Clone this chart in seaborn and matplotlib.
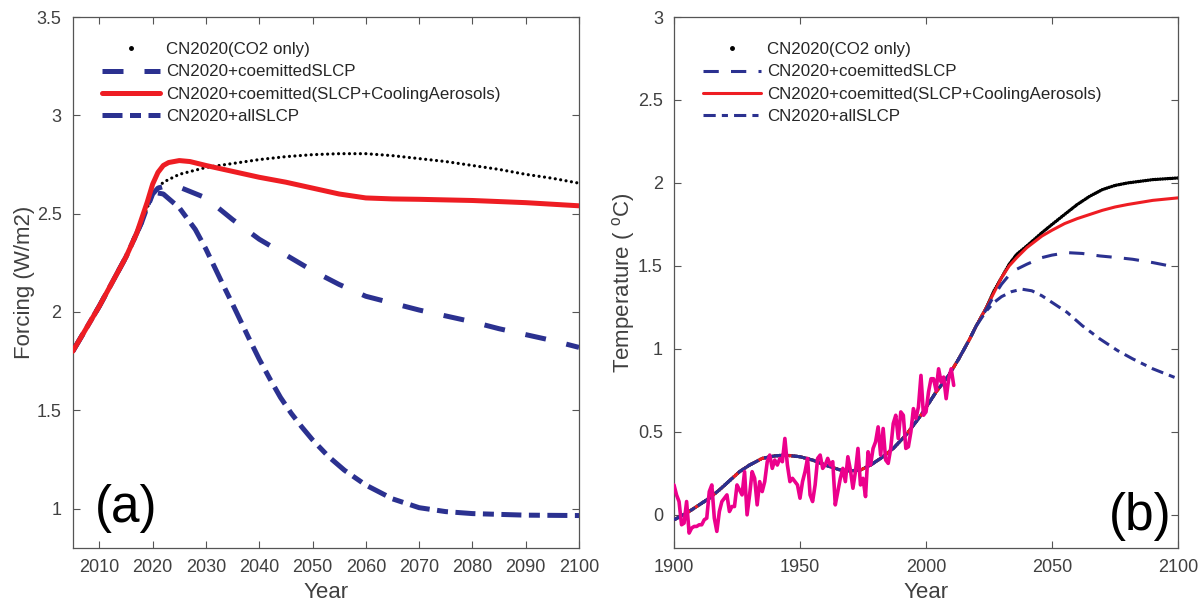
import numpy as np
import pandas as pd
import matplotlib
matplotlib.use("Agg")
import matplotlib.pyplot as plt
from matplotlib.lines import Line2D
import seaborn as sns

# ---------------- data: panel (a) forcing ----------------
a_co2_years = [2005, 2010, 2015, 2018, 2020, 2022, 2025, 2030, 2035, 2040, 2045, 2050,
               2055, 2060, 2065, 2070, 2075, 2080, 2085, 2090, 2095, 2100]
a_co2_vals = [1.80, 2.03, 2.28, 2.46, 2.60, 2.66, 2.70, 2.735, 2.755, 2.775, 2.79, 2.80,
              2.805, 2.805, 2.795, 2.78, 2.765, 2.745, 2.725, 2.70, 2.68, 2.655]

a_red_years = [2005, 2010, 2015, 2017, 2019, 2020, 2021, 2022, 2023, 2025, 2027, 2030, 2035,
               2040, 2045, 2050, 2055, 2060, 2065, 2070, 2080, 2090, 2100]
a_red_vals = [1.80, 2.03, 2.28, 2.40, 2.56, 2.65, 2.71, 2.745, 2.76, 2.77, 2.765, 2.745, 2.715,
              2.685, 2.66, 2.63, 2.60, 2.58, 2.575, 2.573, 2.567, 2.556, 2.54]

a_dash_years = [2005, 2010, 2015, 2018, 2020, 2021, 2023, 2025, 2030, 2035, 2040, 2045, 2050,
                2055, 2060, 2065, 2070, 2075, 2080, 2085, 2090, 2095, 2100]
a_dash_vals = [1.80, 2.03, 2.28, 2.46, 2.60, 2.63, 2.645, 2.635, 2.58, 2.47, 2.37, 2.29, 2.21,
               2.14, 2.08, 2.045, 2.01, 1.98, 1.95, 1.915, 1.885, 1.855, 1.82]

a_dd_years = [2005, 2010, 2015, 2018, 2020, 2022, 2025, 2028, 2030, 2033, 2035, 2038, 2040,
              2042, 2044, 2046, 2048, 2050, 2053, 2056, 2060, 2065, 2070, 2075, 2080, 2090, 2100]
a_dd_vals = [1.80, 2.03, 2.28, 2.46, 2.61, 2.60, 2.53, 2.42, 2.32, 2.15, 2.04, 1.87, 1.76,
             1.66, 1.565, 1.485, 1.415, 1.35, 1.265, 1.195, 1.12, 1.05, 1.005, 0.985, 0.975,
             0.967, 0.965]

# ---------------- data: panel (b) temperature ----------------
b_hist_years = [1900, 1905, 1910, 1914, 1918, 1922, 1926, 1930, 1935, 1940, 1944, 1950, 1955,
                1960, 1966, 1970, 1974, 1978, 1982, 1987, 1992, 1998, 2004, 2009, 2013, 2017, 2020]
b_hist_vals = [-0.03, 0.01, 0.06, 0.10, 0.15, 0.205, 0.26, 0.30, 0.34, 0.355, 0.36, 0.35, 0.33,
               0.30, 0.27, 0.265, 0.27, 0.30, 0.34, 0.40, 0.48, 0.60, 0.74, 0.84, 0.94, 1.05, 1.14]

b_co2_years = [2024, 2027, 2030, 2033, 2036, 2040, 2043, 2046, 2050, 2055, 2060, 2065, 2070,
               2075, 2080, 2085, 2090, 2095, 2100]
b_co2_vals = [1.25, 1.35, 1.43, 1.51, 1.57, 1.62, 1.66, 1.70, 1.75, 1.81, 1.87, 1.92, 1.96,
              1.985, 2.00, 2.01, 2.02, 2.025, 2.03]

b_red_years = [2024, 2027, 2030, 2033, 2036, 2040, 2043, 2046, 2050, 2055, 2060, 2065, 2070,
               2075, 2080, 2090, 2100]
b_red_vals = [1.25, 1.34, 1.43, 1.50, 1.55, 1.61, 1.645, 1.68, 1.715, 1.755, 1.785, 1.81, 1.835,
              1.855, 1.87, 1.895, 1.91]

b_dash_years = [2024, 2027, 2030, 2033, 2036, 2040, 2043, 2046, 2050, 2056, 2062, 2069, 2076,
                2082, 2090, 2100]
b_dash_vals = [1.24, 1.32, 1.39, 1.445, 1.48, 1.51, 1.53, 1.55, 1.565, 1.58, 1.575, 1.56, 1.55,
               1.54, 1.52, 1.49]

b_dd_years = [2024, 2027, 2030, 2034, 2038, 2042, 2046, 2050, 2056, 2062, 2069, 2076, 2082,
              2090, 2100]
b_dd_vals = [1.23, 1.28, 1.315, 1.345, 1.36, 1.35, 1.32, 1.28, 1.22, 1.14, 1.06, 0.99, 0.94,
             0.88, 0.82]

obs_years = list(range(1900, 2012))
obs_vals = [0.18, 0.12, 0.08, -0.06, -0.05, 0.08, -0.11, -0.08, -0.07, -0.07,
            -0.06, -0.06, -0.03, -0.02, 0.14, 0.18, -0.02, -0.10, 0.02, 0.08,
            0.10, 0.12, 0.02, 0.05, 0.05, 0.18, 0.15, 0.12, 0.26, 0.00,
            0.12, 0.26, 0.22, 0.06, 0.20, 0.14, 0.20, 0.32, 0.36, 0.28,
            0.33, 0.30, 0.34, 0.32, 0.46, 0.30, 0.20, 0.22, 0.20, 0.18,
            0.10, 0.20, 0.26, 0.34, 0.12, 0.08, 0.18, 0.34, 0.36, 0.28,
            0.30, 0.34, 0.30, 0.32, 0.06, 0.14, 0.22, 0.28, 0.20, 0.35,
            0.27, 0.16, 0.26, 0.40, 0.18, 0.22, 0.11, 0.38, 0.30, 0.40,
            0.44, 0.53, 0.36, 0.52, 0.33, 0.31, 0.40, 0.55, 0.60, 0.46,
            0.62, 0.60, 0.40, 0.41, 0.50, 0.64, 0.58, 0.65, 0.84, 0.60,
            0.62, 0.74, 0.82, 0.82, 0.75, 0.88, 0.80, 0.83, 0.70, 0.82,
            0.88, 0.78]

labels = ["CN2020(CO2 only)", "CN2020+coemittedSLCP",
          "CN2020+coemitted(SLCP+CoolingAerosols)", "CN2020+allSLCP"]
a_xticks = list(range(2010, 2101, 10))
a_yticks = [1, 1.5, 2, 2.5, 3, 3.5]
b_xticks = [1900, 1950, 2000, 2050, 2100]
b_yticks = [0, 0.5, 1, 1.5, 2, 2.5, 3]

NAVY = "#2B3190"
RED = "#EE1D23"
MAG = "#EC008C"
TXT = "#404040"

sns.set_theme(style="ticks")
plt.rcParams["font.family"] = ["Liberation Sans", "DejaVu Sans"]
plt.rcParams["mathtext.fontset"] = "custom"
plt.rcParams["mathtext.rm"] = "Liberation Sans"

fig = plt.figure(figsize=(12.01, 6.07), dpi=100)
ax1 = fig.add_axes([72.7 / 1201, 1 - 548 / 607, (579 - 72.7) / 1201, (548 - 17) / 607])
ax2 = fig.add_axes([674 / 1201, 1 - 548 / 607, (1178 - 674) / 1201, (548 - 17) / 607])


def line(ax, xs, ys, **kw):
    df = pd.DataFrame({"x": xs, "y": ys})
    sns.lineplot(data=df, x="x", y="y", ax=ax, sort=False, estimator=None, **kw)


# ---- panel (a) ----
lwa = 3.6
line(ax1, a_co2_years, a_co2_vals, color="black", linewidth=2.3,
     dashes=(0.01, 1.7), dash_capstyle="round", zorder=2)
line(ax1, a_dash_years, a_dash_vals, color=NAVY, linewidth=lwa,
     dashes=(4.2, 4.2), zorder=3)
line(ax1, a_dd_years, a_dd_vals, color=NAVY, linewidth=lwa,
     dashes=(4.0, 1.5, 2.2, 1.5), zorder=3)
line(ax1, a_red_years, a_red_vals, color=RED, linewidth=lwa, zorder=4)

# ---- panel (b) ----
lwb = 2.2
line(ax2, b_hist_years + b_co2_years, b_hist_vals + b_co2_vals, color="black",
     linewidth=2.5, dashes=(0.01, 0.7), dash_capstyle="round", zorder=2)
line(ax2, b_hist_years + b_red_years, b_hist_vals + b_red_vals, color=RED,
     linewidth=lwb, zorder=3)
line(ax2, b_hist_years + b_dash_years, b_hist_vals + b_dash_vals, color=NAVY,
     linewidth=lwb, dashes=(5, 4), zorder=4)
line(ax2, b_hist_years + b_dd_years, b_hist_vals + b_dd_vals, color=NAVY,
     linewidth=lwb, dashes=(4, 2, 2, 2), zorder=5)
line(ax2, obs_years, obs_vals, color=MAG, linewidth=2.6, zorder=6)


def style(ax, xlim, ylim, xticks, yticks, ylabel):
    ax.set_xlim(*xlim)
    ax.set_ylim(*ylim)
    ax.set_xticks(xticks)
    ax.set_yticks(yticks)
    ax.set_yticklabels([f"{t:g}" for t in yticks])
    ax.set_xticklabels([str(t) for t in xticks])
    ax.tick_params(direction="in", length=5, width=0.8, top=True, right=True,
                   labelsize=13, colors="#555555", labelcolor=TXT, pad=8)
    for s in ax.spines.values():
        s.set_visible(True)
        s.set_color("#555555")
        s.set_linewidth(0.9)
    ax.set_xlabel("Year", fontsize=16, color=TXT, labelpad=4)
    ax.set_ylabel(ylabel, fontsize=16, color=TXT, labelpad=1)
    ax.set_facecolor("white")


style(ax1, (2005, 2100), (0.8, 3.5), a_xticks, a_yticks, "Forcing (W/m2)")
style(ax2, (1900, 2100), (-0.2, 3.0), b_xticks, b_yticks,
      "Temperature ( $^{\\mathrm{o}}$C)")


def handles(lw_dash, dash, dd):
    return [
        Line2D([], [], color="black", marker=".", markersize=5, linestyle="none"),
        Line2D([], [], color=NAVY, linewidth=lw_dash, dashes=dash),
        Line2D([], [], color=RED, linewidth=lw_dash),
        Line2D([], [], color=NAVY, linewidth=lw_dash, dashes=dd),
    ]


for ax, lw, dash, dd in [(ax1, lwa, (4.2, 4.2), (4.0, 1.5, 2.2, 1.5)),
                         (ax2, lwb, (5, 4), (4, 2, 2, 2))]:
    leg = ax.legend(handles(lw, dash, dd), labels, loc="upper left",
                    bbox_to_anchor=(0.045, 0.965), frameon=False, fontsize=12.2,
                    handlelength=3.4, handletextpad=0.35, labelspacing=0.42,
                    borderaxespad=0.0)
    for t in leg.get_texts():
        t.set_color("#262626")

ax1.text(0.105, 0.075, "(a)", transform=ax1.transAxes, fontsize=37,
         ha="center", va="center", color="black")
ax2.text(0.925, 0.06, "(b)", transform=ax2.transAxes, fontsize=37,
         ha="center", va="center", color="black")

fig.savefig("out.png", dpi=100, facecolor="white")
